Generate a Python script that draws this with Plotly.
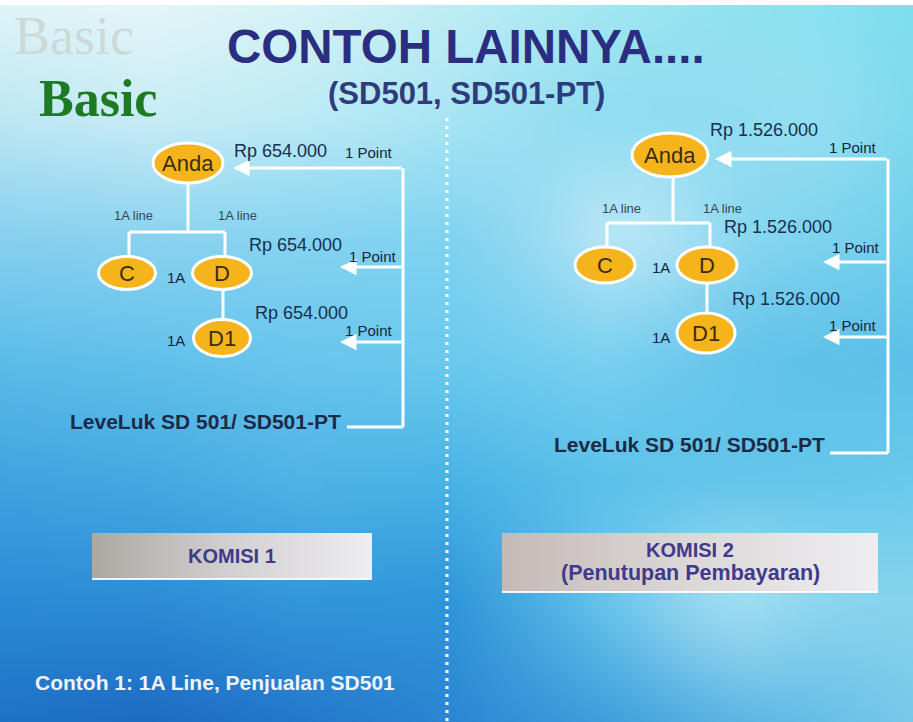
import base64
import struct
import zlib

import numpy as np
import plotly.graph_objects as go

# ---------------- data (texts / values) ----------------
TITLE = "CONTOH LAINNYA...."
SUBTITLE = "(SD501, SD501-PT)"
BRAND = "Basic"
NODE_NAMES = ["Anda", "C", "D", "D1"]
LINK_LABELS = ["1A line", "1A line"]
LEVEL_LABELS = ["1A", "1A"]
AMOUNTS_LEFT = ["Rp 654.000", "Rp 654.000", "Rp 654.000"]
AMOUNTS_RIGHT = ["Rp 1.526.000", "Rp 1.526.000", "Rp 1.526.000"]
POINTS = ["1 Point", "1 Point", "1 Point"]
LEVEL_TEXT = "LeveLuk SD 501/ SD501-PT"
BOX_LEFT = ["KOMISI 1"]
BOX_RIGHT = ["KOMISI 2", "(Penutupan Pembayaran)"]
CAPTION = "Contoh 1: 1A Line, Penjualan SD501"

# ---------------- layout (positions / sizes) ----------------
W, H = 913, 722
FONT = "Liberation Sans, Arial, sans-serif"
SERIF = "Liberation Serif, Times New Roman, serif"

PANELS = [
    dict(  # left panel
        nodes=[(188, 163, 70, 40), (127, 273, 57, 33), (222, 273, 59, 33), (222, 338, 57, 37)],
        tree=[((188, 183), (188, 232)), ((129, 232), (225, 232)), ((129, 232), (129, 257)),
              ((225, 232), (225, 257)), ((223, 290), (223, 320))],
        bus_x=403, bus_top=168, bus_bot=427, bus_end=347,
        arrows=[(168, 233), (267, 340), (342, 340)],
        amounts=AMOUNTS_LEFT, amt_pos=[(232, 151), (247, 245), (253, 313)],
        pt_pos=[(343, 152), (347, 256), (343, 330)],
        link_pos=[(133, 215), (237, 215)], lvl_pos=[(176, 277), (176, 340)],
        lvtext=(68, 421),
    ),
    dict(  # right panel
        nodes=[(670, 155, 76, 44), (605, 265, 60, 36), (707, 265, 60, 36), (706, 333, 58, 40)],
        tree=[((673, 177), (673, 223)), ((607, 223), (710, 223)), ((607, 223), (607, 247)),
              ((710, 223), (710, 247)), ((707, 283), (707, 313))],
        bus_x=888, bus_top=159, bus_bot=453, bus_end=830,
        arrows=[(159, 715), (262, 823), (337, 823)],
        amounts=AMOUNTS_RIGHT, amt_pos=[(708, 130), (722, 227), (730, 299)],
        pt_pos=[(827, 147), (830, 247), (827, 325)],
        link_pos=[(621, 208), (722, 208)], lvl_pos=[(661, 267), (661, 337)],
        lvtext=(552, 444),
    ),
]

# ---------------- background image (decorative gradient) ----------------
GX = [0, 150, 300, 450, 600, 750, 913]
GY = [0, 120, 240, 360, 480, 600, 722]
GC = [
    ["#e2f5f8", "#e6f6f9", "#d8f3f7", "#c0eef5", "#a5e8f2", "#8ce2ef", "#7edfee"],
    ["#bce8f4", "#c8ecf6", "#bcebf5", "#a8e5f4", "#8edcf1", "#82d9ef", "#7ad8ee"],
    ["#86d0ef", "#8ad3f0", "#86d4f1", "#7fd3f1", "#a2def3", "#80d4f0", "#70cfec"],
    ["#5dbde9", "#62c1eb", "#6ac6ed", "#6ccaee", "#78d0f0", "#64c4ea", "#5cc0e8"],
    ["#3fa4e0", "#45aae2", "#4fb4e6", "#4ab4e6", "#5cc2ea", "#62c4ea", "#6acaec"],
    ["#2b8cd6", "#2e8dd6", "#3398da", "#3096da", "#62c2ea", "#8ad6ef", "#86d4ee"],
    ["#1f72c8", "#1d6cc4", "#2478cc", "#2c86d2", "#3e9edc", "#5ab6e4", "#78caea"],
]
GLOWS = [(640, 230, 60, 0.25), (800, 120, 70, 0.15), (720, 600, 60, 0.2)]


def hex_rgb(h):
    h = h.lstrip("#")
    return [int(h[i:i + 2], 16) for i in (0, 2, 4)]


def background_png():
    iw, ih = 183, 145
    xs = (np.arange(iw) + 0.5) * W / iw
    ys = (np.arange(ih) + 0.5) * H / ih
    ctrl = np.array([[hex_rgb(c) for c in row] for row in GC], dtype=float)
    img = np.zeros((ih, iw, 3))
    for ch in range(3):
        rows = np.array([np.interp(xs, GX, ctrl[r, :, ch]) for r in range(len(GY))])
        for j in range(iw):
            img[:, j, ch] = np.interp(ys, GY, rows[:, j])
    XX, YY = np.meshgrid(xs, ys)
    for cx, cy, s, a in GLOWS:
        g = a * np.exp(-((XX - cx) ** 2 + (YY - cy) ** 2) / (2 * s * s))
        img += (255 - img) * g[:, :, None]
    img = np.clip(img, 0, 255).astype(np.uint8)
    raw = b"".join(b"\x00" + img[r].tobytes() for r in range(ih))

    def chunk(t, d):
        return struct.pack(">I", len(d)) + t + d + struct.pack(">I", zlib.crc32(t + d) & 0xFFFFFFFF)

    png = (b"\x89PNG\r\n\x1a\n"
           + chunk(b"IHDR", struct.pack(">IIBBBBB", iw, ih, 8, 2, 0, 0, 0))
           + chunk(b"IDAT", zlib.compress(raw, 9))
           + chunk(b"IEND", b""))
    return "data:image/png;base64," + base64.b64encode(png).decode()


fig = go.Figure()
shapes = []
ann = []


def text(x, y, s, size, color, bold=False, xanchor="center", family=FONT):
    ann.append(dict(x=x, y=y, xref="x", yref="y", text=f"<b>{s}</b>" if bold else s,
                    showarrow=False, xanchor=xanchor, yanchor="middle",
                    font=dict(size=size, color=color, family=family)))


def seg(p, q, color="white", width=3):
    shapes.append(dict(type="line", x0=p[0], y0=p[1], x1=q[0], y1=q[1], xref="x", yref="y",
                       line=dict(color=color, width=width)))


# top white strip
shapes.append(dict(type="rect", x0=0, x1=W, y0=0, y1=5, xref="x", yref="y",
                   fillcolor="white", line=dict(width=0)))

# dotted divider
shapes.append(dict(type="line", x0=447, x1=447, y0=118, y1=H, xref="x", yref="y",
                   line=dict(color="white", width=3, dash="3px,5px")))

# brand + titles
text(12, 36, BRAND, 54, "#cdd9d6", xanchor="left", family=SERIF)
text(37, 98, BRAND, 52, "#1f7a24", bold=True, xanchor="left", family=SERIF)
text(466, 46, TITLE, 47.5, "#2b2e80", bold=True)
text(466, 93, SUBTITLE, 31, "#2f3b7a", bold=True)

for p in PANELS:
    for a, b in p["tree"]:
        seg(a, b)
    seg((p["bus_x"], p["bus_top"]), (p["bus_x"], p["bus_bot"]))
    seg((p["bus_end"], p["bus_bot"]), (p["bus_x"], p["bus_bot"]))
    for y, tip in p["arrows"]:
        ann.append(dict(x=tip, y=y, ax=p["bus_x"], ay=y, xref="x", yref="y", axref="x", ayref="y",
                        text="", showarrow=True, arrowhead=2, arrowsize=1.1, arrowwidth=3,
                        arrowcolor="white", standoff=0))
    for name, (cx, cy, w, h) in zip(NODE_NAMES, p["nodes"]):
        shapes.append(dict(type="circle", x0=cx - w / 2, x1=cx + w / 2, y0=cy - h / 2, y1=cy + h / 2,
                           xref="x", yref="y", fillcolor="#f6b41c", line=dict(color="white", width=3)))
        text(cx, cy, name, 22, "#3a2c12")
    for s, (x, y) in zip(p["amounts"], p["amt_pos"]):
        text(x, y, s, 18, "#16304f", xanchor="left")
    for s, (x, y) in zip(POINTS, p["pt_pos"]):
        text(x, y, s, 15, "#16253f", xanchor="left")
    for s, (x, y) in zip(LINK_LABELS, p["link_pos"]):
        text(x, y, s, 13, "#34465a")
    for s, (x, y) in zip(LEVEL_LABELS, p["lvl_pos"]):
        text(x, y, s, 15, "#16253f")
    text(p["lvtext"][0], p["lvtext"][1], LEVEL_TEXT, 21, "#1c2a48", bold=True, xanchor="left")

# commission boxes
BOXES = [
    (92, 372, 533, 579, [[0, "#aca8a2"], [0.5, "#d3d0d1"], [1, "#eeedf1"]]),
    (502, 878, 533, 592, [[0, "#c4bab6"], [0.5, "#dcd8d8"], [1, "#eeedf1"]]),
]
for x0, x1, y0, y1, cs in BOXES:
    fig.add_trace(go.Scatter(x=[x0, x1, x1, x0, x0], y=[y0, y0, y1, y1, y0], mode="lines",
                             fill="toself", line=dict(width=0), hoverinfo="skip",
                             fillgradient=dict(type="horizontal", colorscale=cs)))
    seg((x0, y1), (x1, y1), color="rgba(255,255,255,0.9)", width=2)

text(232, 556, BOX_LEFT[0], 20, "#3f3a8a", bold=True)
text(690, 550, BOX_RIGHT[0], 20, "#3f3a8a", bold=True)
text(690, 573, BOX_RIGHT[1], 21.5, "#3f3a8a", bold=True)

text(33, 682, CAPTION, 21, "#eef4fa", bold=True, xanchor="left")

fig.update_layout(
    width=W, height=H, margin=dict(l=0, r=0, t=0, b=0),
    paper_bgcolor="#5ab8e6", plot_bgcolor="rgba(0,0,0,0)",
    xaxis=dict(range=[0, W], visible=False, fixedrange=True),
    yaxis=dict(range=[H, 0], visible=False, fixedrange=True),
    showlegend=False, hovermode=False,
    shapes=shapes, annotations=ann,
    images=[dict(source=background_png(), xref="paper", yref="paper", x=0, y=1,
                 sizex=1, sizey=1, sizing="stretch", xanchor="left", yanchor="top",
                 layer="below")],
)

fig.write_html(
    "out.html",
    config={"displayModeBar": False},
    post_script="document.body.style.margin='0';document.body.style.overflow='hidden';",
)
